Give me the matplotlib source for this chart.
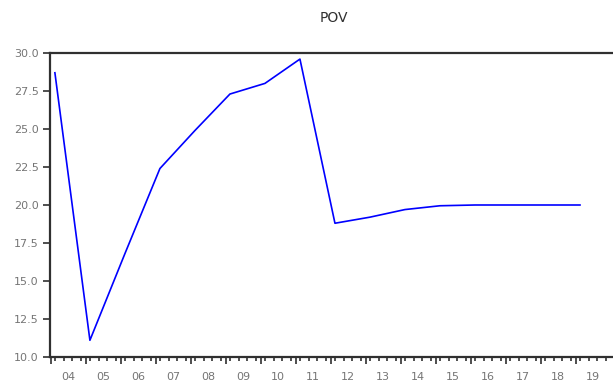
import matplotlib.pyplot as plt
import numpy as np

plt.rcParams['font.family'] = 'DejaVu Sans'

# annual POV values, 2004-2019
years = np.arange(2004, 2020)
pov = [28.7, 11.1, 16.8, 22.4, 24.9, 27.3, 28.0, 29.6,
       18.8, 19.2, 19.7, 19.95, 20.0, 20.0, 20.0, 20.0]
year_labels = [f"{y % 100:02d}" for y in years]

fig = plt.figure(figsize=(6.13, 3.85), dpi=100)
ax = fig.add_axes([50 / 613, 1 - 357 / 385, 565 / 613, 304 / 385])

ax.plot(years, pov, color='#0000ff', lw=1.2)

ax.set_xlim(2003.86, 2020.0)
ax.set_ylim(10, 30)

# y axis
yt = np.arange(10, 30.01, 2.5)
ax.set_yticks(yt)
ax.set_yticklabels([f"{v:.1f}" for v in yt])
ax.tick_params(axis='y', direction='out', length=5, width=1.2, color='#303030',
               labelsize=8, labelcolor='#757575', pad=3)

# x axis: quarter ticks, longer ticks at year boundaries
ax.set_xticks(np.arange(2004, 2020) - 0.125)
ax.set_xticklabels([])
ax.set_xticks(np.arange(2004, 2020, 0.25), minor=True)
ax.tick_params(axis='x', which='major', direction='out', length=5, width=1.2, color='#303030')
ax.tick_params(axis='x', which='minor', direction='out', length=3, width=1.2, color='#303030')

# year labels sit in the middle of each year's quarters
sec = ax.secondary_xaxis('bottom')
sec.set_xticks(years + 0.375)
sec.set_xticklabels(year_labels)
sec.tick_params(length=0, labelsize=8, labelcolor='#757575', pad=11)
sec.spines['bottom'].set_visible(False)

for s in ax.spines.values():
    s.set_color('#303030')
    s.set_linewidth(1.6)

fig.text(334 / 613, 1 - 18 / 385, 'POV', ha='center', va='center',
         fontsize=10, color='#303030')

fig.savefig('out.png', dpi=100)
